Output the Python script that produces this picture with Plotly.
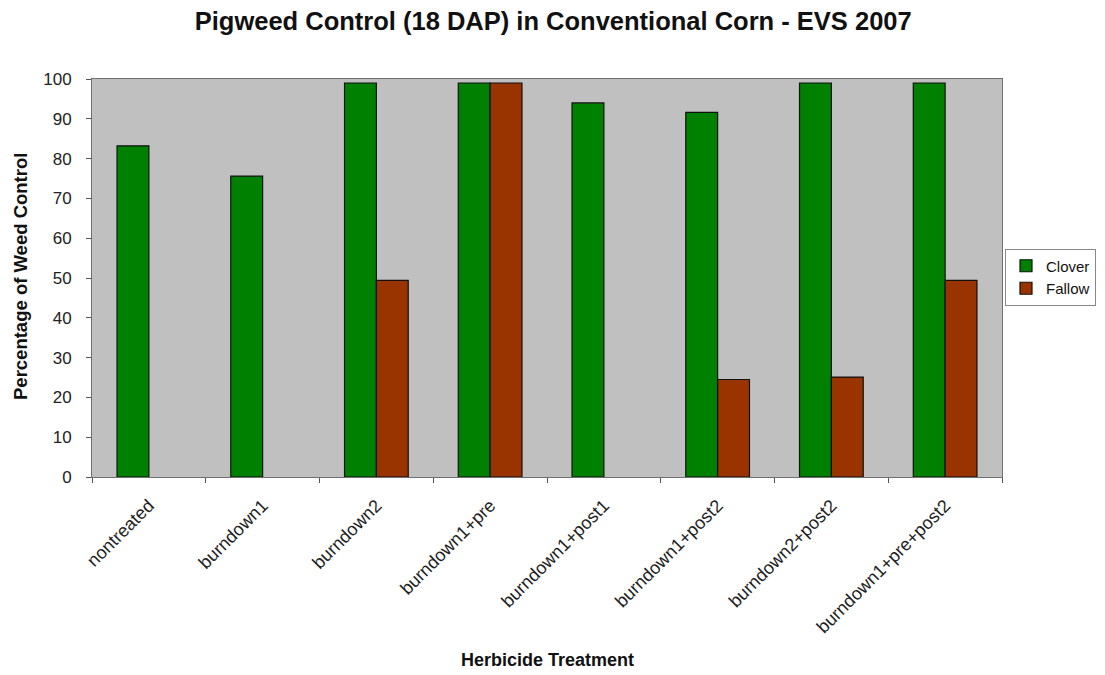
import plotly.graph_objects as go

categories = ["nontreated", "burndown1", "burndown2", "burndown1+pre",
              "burndown1+post1", "burndown1+post2", "burndown2+post2",
              "burndown1+pre+post2"]
clover = [83.2, 75.6, 99, 99, 94.0, 91.6, 99, 99]
fallow = [None, None, 49.4, 99, None, 24.5, 25.1, 49.4]

FONT = "Liberation Sans, Arial, sans-serif"
OFF = 8  # page body margin offset
W, H = 1105 - OFF, 675 - OFF
L, T = 92 - OFF, 79 - OFF
R = W - (1002 - OFF)
B = H - (477 - OFF)
PW, PH = W - L - R, H - T - B


def px_x(x):
    return (x - OFF - L) / PW


def px_y(y):
    return ((H - B) - (y - OFF)) / PH


fig = go.Figure()
fig.add_trace(go.Bar(x=categories, y=clover, name="Clover",
                     marker=dict(color="#008000", line=dict(color="#111111", width=1.2))))
fig.add_trace(go.Bar(x=categories, y=fallow, name="Fallow",
                     marker=dict(color="#993300", line=dict(color="#111111", width=1.2))))

fig.update_layout(
    width=W, height=H,
    margin=dict(l=L, r=R, t=T, b=B, autoexpand=False),
    paper_bgcolor="white",
    plot_bgcolor="#c0c0c0",
    barmode="group",
    bargap=0.44,
    bargroupgap=0,
    font=dict(family=FONT, size=14, color="#222222"),
    title=dict(text="<b>Pigweed Control (18 DAP) in Conventional Corn - EVS 2007</b>",
               x=(564 - OFF) / W, xanchor="center", xref="paper",
               y=1 - (21 - OFF) / H, yanchor="middle",
               font=dict(family=FONT, size=25.5, color="#111111")),
    legend=dict(x=px_x(1005), xanchor="left",
                y=px_y(277), yanchor="middle",
                bordercolor="#888888", borderwidth=1, bgcolor="white",
                font=dict(family=FONT, size=15, color="#111111"),
                tracegroupgap=0, itemwidth=30),
    showlegend=True,
)
fig.update_xaxes(
    type="category", automargin=False,
    tickangle=-45,
    ticks="outside", ticklen=5, tickcolor="#555555",
    tickson="boundaries", ticklabelstandoff=10,
    showline=True, linecolor="#707070", linewidth=1, mirror=True,
    showgrid=False,
    tickfont=dict(family=FONT, size=18, color="#222222"),
)
fig.update_yaxes(
    range=[0, 100], dtick=10, automargin=False,
    ticks="outside", ticklen=5, tickcolor="#555555",
    ticklabelstandoff=11,
    showline=True, linecolor="#707070", linewidth=1, mirror=True,
    showgrid=False, zeroline=False,
    tickfont=dict(family=FONT, size=17, color="#222222"),
)

fig.add_annotation(text="<b>Herbicide Treatment</b>", xref="paper", yref="paper",
                   x=px_x(547), y=px_y(660),
                   xanchor="center", yanchor="middle", showarrow=False,
                   font=dict(family=FONT, size=18, color="#111111"))
fig.add_annotation(text="<b>Percentage of Weed Control</b>", xref="paper", yref="paper",
                   x=px_x(20), y=px_y(277),
                   xanchor="center", yanchor="middle", textangle=-90, showarrow=False,
                   font=dict(family=FONT, size=18.5, color="#111111"))

fig.write_html("out.html")
